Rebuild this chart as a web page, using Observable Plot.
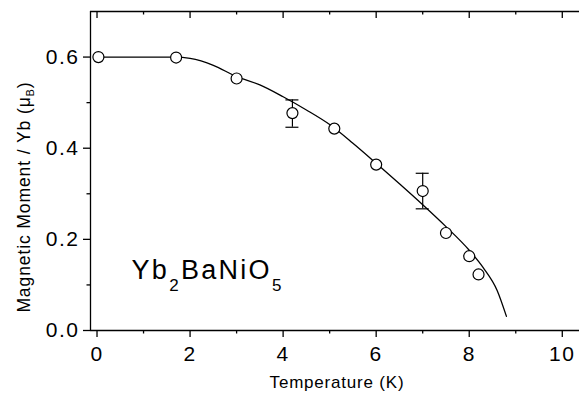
<!DOCTYPE html>
<html>
<head>
<meta charset="utf-8">
<script src="https://cdn.jsdelivr.net/npm/d3@7"></script>
<script src="https://cdn.jsdelivr.net/npm/@observablehq/plot@0.6"></script>
<style>
  html, body { margin: 0; padding: 0; background: #fff; }
  #chart svg { display: block; }
  g[aria-label="y-axis tick label"] text,
  g[aria-label="x-axis tick label"] text { letter-spacing: 1.5px; }
</style>
</head>
<body>
<div id="chart"></div>
<script>
// Measured data points
const tempK  = [0.03, 1.7, 3.0, 4.2, 5.1, 6.0, 7.0, 7.5, 8.0, 8.2];
const moment = [0.600, 0.599, 0.553, 0.477, 0.443, 0.364, 0.306, 0.214, 0.163, 0.123];
// Error bars
const errT    = [4.2, 7.0];
const errLow  = [0.446, 0.267];
const errHigh = [0.506, 0.345];
// Fitted curve
const fitT = [0, 0.5, 1.0, 1.5, 1.7, 2.0, 2.5, 3.0, 3.5, 4.0, 4.5, 5.0, 5.5, 6.0, 6.5, 7.0, 7.5, 8.0, 8.3, 8.6, 8.8];
const fitM = [0.600, 0.600, 0.600, 0.600, 0.600, 0.597, 0.582, 0.557, 0.539, 0.513, 0.484, 0.452, 0.411, 0.367, 0.322, 0.276, 0.228, 0.176, 0.138, 0.088, 0.031];
// Axes
const xMajor = [0, 2, 4, 6, 8, 10];
const xMinor = [1, 3, 5, 7, 9];
const yMajor = [0, 0.2, 0.4, 0.6];
const yMinor = [0.1, 0.3, 0.5];
const xDomain = [-0.14, 10.37];
const yDomain = [0, 0.7];
const xTitle = "Temperature (K)";
const yTitle = "Magnetic Moment / Yb (μB)";
const formula = "Yb2BaNiO5";

const points = tempK.map((t, i) => ({t, m: moment[i]}));
const errs = errT.map((t, i) => ({t, lo: errLow[i], hi: errHigh[i]}));
const fit = fitT.map((t, i) => ({t, m: fitM[i]}));

const font = "'Liberation Sans', Arial, Helvetica, sans-serif";

const chart = Plot.plot({
  width: 579,
  height: 395,
  marginLeft: 90,
  marginRight: 0,
  marginTop: 11,
  marginBottom: 65,
  style: {fontFamily: font, color: "#000", background: "#fff", overflow: "visible"},
  x: {domain: xDomain},
  y: {domain: yDomain},
  marks: [
    // axis lines
    Plot.ruleY([yDomain[0]], {stroke: "#000", strokeWidth: 1.3}),
    Plot.ruleY([yDomain[1]], {stroke: "#000", strokeWidth: 1.3}),
    Plot.ruleX([xDomain[0]], {stroke: "#000", strokeWidth: 1.3}),
    // bottom axis
    Plot.axisX({ticks: xMajor, tickSize: 7, tickPadding: 9, tickFormat: d => String(d), fontSize: 21, label: null, strokeWidth: 1.3}),
    Plot.axisX({ticks: xMinor, tickSize: 3.5, text: null, label: null, strokeWidth: 1.3}),
    // top ticks (inward)
    Plot.ruleX(xMajor, {stroke: "#000", strokeWidth: 1.3, insetBottom: 312}),
    Plot.ruleX(xMinor, {stroke: "#000", strokeWidth: 1.3, insetBottom: 315.5}),
    // left axis
    Plot.axisY({ticks: yMajor, tickSize: 7, tickPadding: 4, tickFormat: d3.format(".1f"), fontSize: 21, label: null, strokeWidth: 1.3}),
    Plot.axisY({ticks: yMinor, tickSize: 3.5, text: null, label: null, strokeWidth: 1.3}),
    // fit curve
    Plot.line(fit, {x: "t", y: "m", stroke: "#000", strokeWidth: 1.3, curve: "monotone-x"}),
    // error bars
    Plot.ruleX(errs, {x: "t", y1: "lo", y2: "hi", stroke: "#000", strokeWidth: 1.2}),
    Plot.ruleY(errs, {y: "lo", x1: "t", x2: "t", insetLeft: -6.5, insetRight: -6.5, stroke: "#000", strokeWidth: 1.2}),
    Plot.ruleY(errs, {y: "hi", x1: "t", x2: "t", insetLeft: -6.5, insetRight: -6.5, stroke: "#000", strokeWidth: 1.2}),
    // data points
    Plot.dot(points, {x: "t", y: "m", r: 5.5, fill: "#fff", stroke: "#000", strokeWidth: 1.2}),
    // titles
    Plot.text([xTitle], {text: d => d, frameAnchor: "bottom", textAnchor: "middle", lineAnchor: "bottom", dy: 57, dx: 2, fontSize: 17, fill: "#000"}),
    Plot.text([yTitle], {text: d => d, frameAnchor: "left", textAnchor: "middle", rotate: -90, dx: -66, dy: 26, fontSize: 17.5, fill: "#000"}),
    Plot.text([formula], {text: d => d, frameAnchor: "bottom-left", textAnchor: "start", lineAnchor: "bottom", dx: 41, dy: -52, fontSize: 27, fill: "#000"})
  ]
});

document.getElementById("chart").appendChild(chart);

// Rich text: subscripts
function findText(content) {
  return d3.select(chart).selectAll("text").filter(function() { return this.textContent === content; });
}
function setRich(content, parts, spacing) {
  const t = findText(content);
  if (t.empty()) return;
  t.text(null);
  if (spacing != null) t.style("letter-spacing", spacing);
  for (const p of parts) {
    const s = t.append("tspan").text(p.text);
    if (p.size) s.attr("font-size", p.size);
    if (p.dy) s.attr("dy", p.dy);
  }
}
findText(xTitle).style("letter-spacing", "0.8px");
setRich(formula, [
  {text: "Yb"}, {text: "2", size: 17, dy: 12}, {text: "BaNiO", dy: -12}, {text: "5", size: 17, dy: 12}
], "2.3px");
setRich(yTitle, [
  {text: "Magnetic Moment / Yb (μ"}, {text: "B", size: 11, dy: 4}, {text: ")", dy: -4}
], "0.9px");
</script>
</body>
</html>
